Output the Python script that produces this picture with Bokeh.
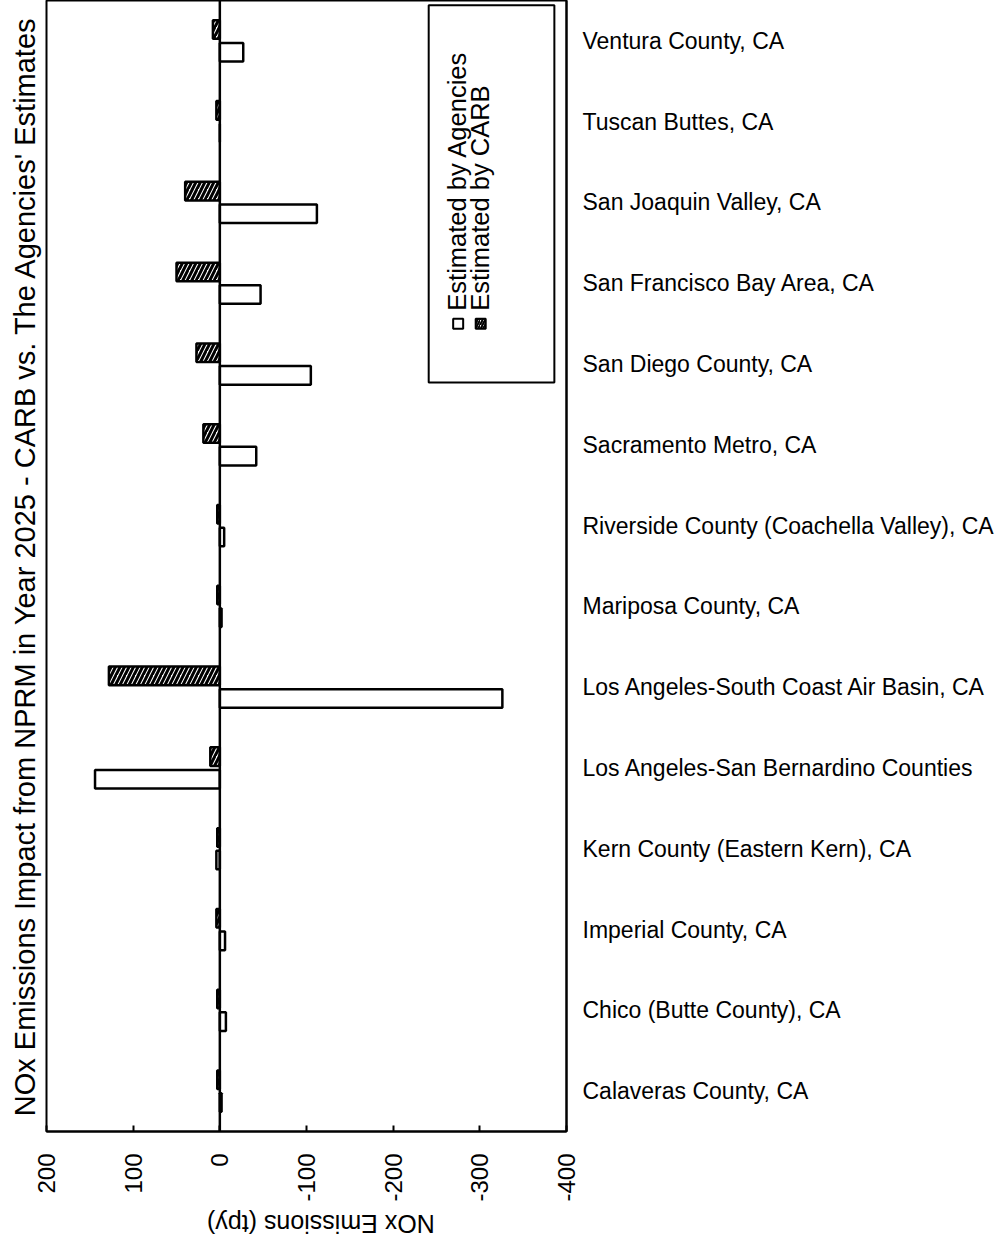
import math
from bokeh.plotting import figure
from bokeh.layouts import column
from bokeh.models import Range1d, FactorRange, FixedTicker, Span, Label, ColumnDataSource
from bokeh.transform import dodge
from bokeh.core.properties import value
from bokeh.embed import file_html
from bokeh.resources import INLINE

# ---- data (top to bottom as shown) ----
regions = [
    "Ventura County, CA",
    "Tuscan Buttes, CA",
    "San Joaquin Valley, CA",
    "San Francisco Bay Area, CA",
    "San Diego County, CA",
    "Sacramento Metro, CA",
    "Riverside County (Coachella Valley), CA",
    "Mariposa County, CA",
    "Los Angeles-South Coast Air Basin, CA",
    "Los Angeles-San Bernardino Counties",
    "Kern County (Eastern Kern), CA",
    "Imperial County, CA",
    "Chico (Butte County), CA",
    "Calaveras County, CA",
]
carb_values = [8, 4, 40, 50, 27, 19, 3, 3, 128, 11, 3, 4, 3, 3]
agency_values = [-27, 0, -112, -47, -105, -42, -5, -2, -326, 144, 4, -6, -7, -2]

x_ticks = [200, 100, 0, -100, -200, -300, -400]
x_tick_labels = ["200", "100", "0", "-100", "-200", "-300", "-400"]

series_names = ["Estimated by Agencies", "Estimated by CARB"]
title_text = "NOx Emissions Impact from NPRM in Year 2025 - CARB vs. The Agencies' Estimates"
x_label = "NOx Emissions (tpy)"

FONT = "Liberation Sans"
PAGE_W = 995

src = ColumnDataSource(dict(region=regions, carb=carb_values, agencies=agency_values))

p = figure(
    y_range=FactorRange(factors=list(reversed(regions))),
    x_range=Range1d(200, -400),
    frame_width=520, frame_height=1131,
    y_axis_location="right",
    title=title_text, title_location="left",
    output_backend="svg", toolbar_location=None,
    min_border_left=0, min_border_right=0, min_border_top=0, min_border_bottom=0,
)

p.title.align = "center"
p.title.text_font = FONT
p.title.text_font_size = "29px"
p.title.text_font_style = "normal"
p.title.text_color = "black"
p.title.standoff = 12

p.xgrid.visible = False
p.ygrid.visible = False
p.outline_line_color = "black"
p.outline_line_width = 2
p.background_fill_color = "white"
p.border_fill_color = "white"

# bars
p.hbar(y=dodge("region", 0.14, range=p.y_range), left=0, right="carb", height=0.23,
       source=src, fill_color="white", hatch_pattern="/", hatch_color="black",
       hatch_weight=3, hatch_scale=9, line_color="black", line_width=2.5)
p.hbar(y=dodge("region", -0.14, range=p.y_range), left=0, right="agencies", height=0.23,
       source=src, fill_color="white", line_color="black", line_width=2.5)

p.add_layout(Span(location=0, dimension="height", line_color="black", line_width=2.5))

# x axis
xa = p.xaxis[0]
xa.ticker = FixedTicker(ticks=x_ticks)
xa.major_label_overrides = {t: l for t, l in zip(x_ticks, x_tick_labels)}
xa.major_label_orientation = math.pi / 2
xa.major_label_text_font = FONT
xa.major_label_text_font_size = "24px"
xa.major_label_text_color = "black"
xa.major_label_standoff = 22
xa.major_tick_in = 6
xa.major_tick_out = 0
xa.major_tick_line_width = 2
xa.minor_tick_in = 0
xa.minor_tick_out = 0
xa.axis_line_width = 2

# y axis (right)
ya = p.yaxis[0]
ya.major_tick_in = 0
ya.major_tick_out = 0
ya.minor_tick_in = 0
ya.minor_tick_out = 0
ya.major_label_standoff = 16
ya.major_label_text_font = FONT
ya.major_label_text_font_size = "23px"
ya.major_label_text_color = "black"
ya.axis_line_width = 2

# manual rotated legend
p.quad(left=[-241], right=[-386], top=[13.94], bottom=[9.27],
       fill_color="white", line_color="black", line_width=2)
p.rect(x=[-275], y=[10.0], width=10, height=10, width_units="screen", height_units="screen",
       fill_color="white", line_color="black", line_width=2)
p.rect(x=[-301], y=[10.0], width=10, height=10, width_units="screen", height_units="screen",
       fill_color="white", hatch_pattern="/", hatch_color="black", hatch_weight=2,
       hatch_scale=5, line_color="black", line_width=2)
for xv, name in zip([-274, -300.5], series_names):
    p.add_layout(Label(x=xv, y=10.16, text=name, angle=math.pi / 2,
                       text_align="left", text_baseline="middle",
                       text_font=FONT, text_font_size="25.5px", text_color="black"))

# strip below holding the upside-down axis title
p2 = figure(width=PAGE_W, height=40, x_range=Range1d(0, PAGE_W), y_range=Range1d(0, 40),
            output_backend="svg", toolbar_location=None,
            min_border_left=0, min_border_right=0, min_border_top=0, min_border_bottom=0)
p2.axis.visible = False
p2.grid.visible = False
p2.outline_line_color = None
p2.text(x=[526], y=[21], text=[x_label], angle=math.pi, text_align="center",
        text_baseline="middle", text_font=value(FONT), text_font_size=value("25px"),
        text_color="black")

layout = column(p, p2, spacing=0)
open("out.html", "w").write(file_html(layout, INLINE))
